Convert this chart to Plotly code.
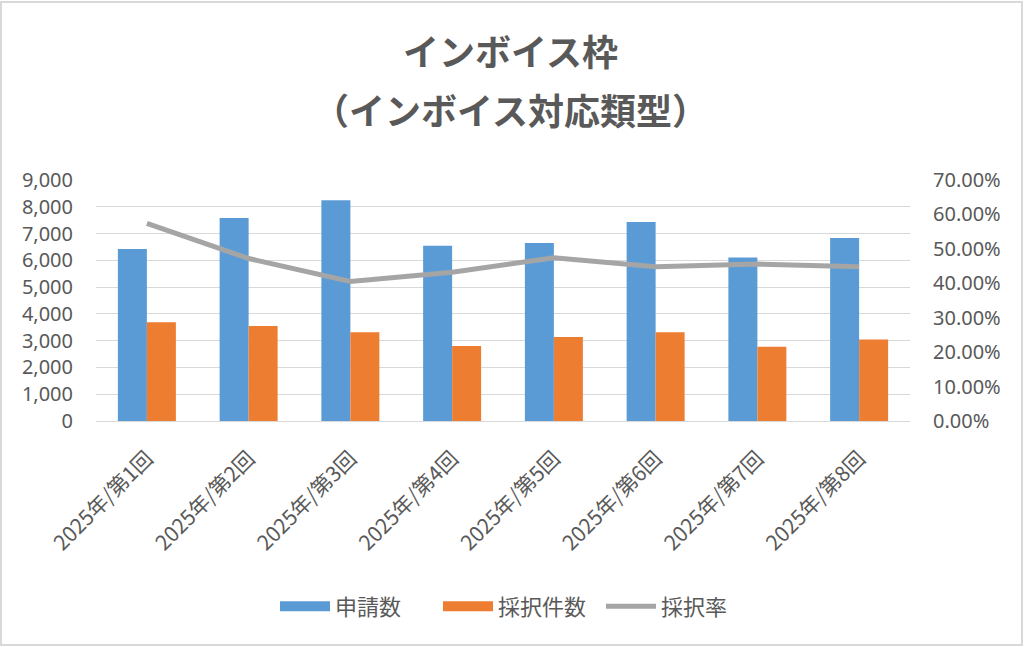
import plotly.graph_objects as go

categories = ["2025年/第1回", "2025年/第2回", "2025年/第3回", "2025年/第4回",
              "2025年/第5回", "2025年/第6回", "2025年/第7回", "2025年/第8回"]
applications = [6420, 7580, 8240, 6540, 6650, 7430, 6110, 6830]
adopted = [3690, 3550, 3310, 2800, 3140, 3310, 2770, 3040]
adoption_rate = [0.574, 0.472, 0.405, 0.432, 0.474, 0.448, 0.456, 0.448]
left_ticks = [0, 1000, 2000, 3000, 4000, 5000, 6000, 7000, 8000, 9000]
right_ticks = [0, 0.1, 0.2, 0.3, 0.4, 0.5, 0.6, 0.7]

BLUE = "#5b9bd5"
ORANGE = "#ed7d31"
GREY = "#a5a5a5"
TXT = "#595959"
FONT = "Noto Sans CJK JP"
NUMFONT = "Noto Sans"

fig = go.Figure()
fig.add_trace(go.Bar(x=categories, y=applications, name="申請数",
                     marker=dict(color=BLUE, line=dict(width=0)), showlegend=False))
fig.add_trace(go.Bar(x=categories, y=adopted, name="採択件数",
                     marker=dict(color=ORANGE, line=dict(width=0)), showlegend=False))
fig.add_trace(go.Scatter(x=categories, y=adoption_rate, name="採択率", yaxis="y2",
                         mode="lines", line=dict(color=GREY, width=5), showlegend=False))
# legend entries
fig.add_trace(go.Scatter(x=[None], y=[None], name="申請数", mode="lines",
                         line=dict(color=BLUE, width=12)))
fig.add_trace(go.Scatter(x=[None], y=[None], name="採択件数", mode="lines",
                         line=dict(color=ORANGE, width=12)))
fig.add_trace(go.Scatter(x=[None], y=[None], name="採択率", mode="lines", yaxis="y2",
                         line=dict(color=GREY, width=5)))

fig.update_layout(
    width=1024, height=647,
    margin=dict(l=96, r=114, t=180, b=226),
    paper_bgcolor="white", plot_bgcolor="white",
    font=dict(family=FONT, color=TXT, size=18),
    barmode="group", bargap=0.43, bargroupgap=0,
    xaxis=dict(tickangle=-45, tickfont=dict(size=21, color=TXT), showgrid=False,
               showline=True, linecolor="#d9d9d9", linewidth=1, ticks="",
               ticklabelstandoff=16),
    yaxis=dict(range=[0, 9000], tickvals=left_ticks, tickformat=",d",
               showgrid=True, gridcolor="#d9d9d9", gridwidth=1, zeroline=False,
               tickfont=dict(size=20, color=TXT, family=NUMFONT), ticks="",
               ticklabelstandoff=22),
    yaxis2=dict(range=[0, 0.7], tickvals=right_ticks, tickformat=".2%",
                overlaying="y", side="right", showgrid=False, zeroline=False,
                tickfont=dict(size=20, color=TXT, family=NUMFONT), ticks="",
                ticklabelstandoff=22),
    legend=dict(orientation="h", x=(275 - 96) / 814, xanchor="left", y=-0.77,
                yanchor="middle", font=dict(size=22, color=TXT), itemwidth=50,
                entrywidth=98, entrywidthmode="pixels", traceorder="normal"),
    showlegend=True,
    annotations=[
        dict(text="<b>インボイス枠</b>", xref="paper", yref="paper", x=(510 - 96) / 814,
             y=1.0, xanchor="center", yanchor="middle", yshift=130, showarrow=False,
             font=dict(size=36, color=TXT, family=FONT)),
        dict(text="<b>（インボイス対応類型）</b>", xref="paper", yref="paper",
             x=(510 - 96) / 814, y=1.0, xanchor="center", yanchor="middle", yshift=71,
             showarrow=False, font=dict(size=36, color=TXT, family=FONT)),
    ],
    shapes=[dict(type="rect", xref="paper", yref="paper",
                 x0=-95/814, x1=1+112/814, y0=-224/241, y1=1+178/241,
                 line=dict(color="#d9d9d9", width=2), fillcolor="rgba(0,0,0,0)")],
)

fig.write_html("out.html", config={"displayModeBar": False},
               post_script="document.body.style.margin='0px';document.body.style.overflow='hidden';")
